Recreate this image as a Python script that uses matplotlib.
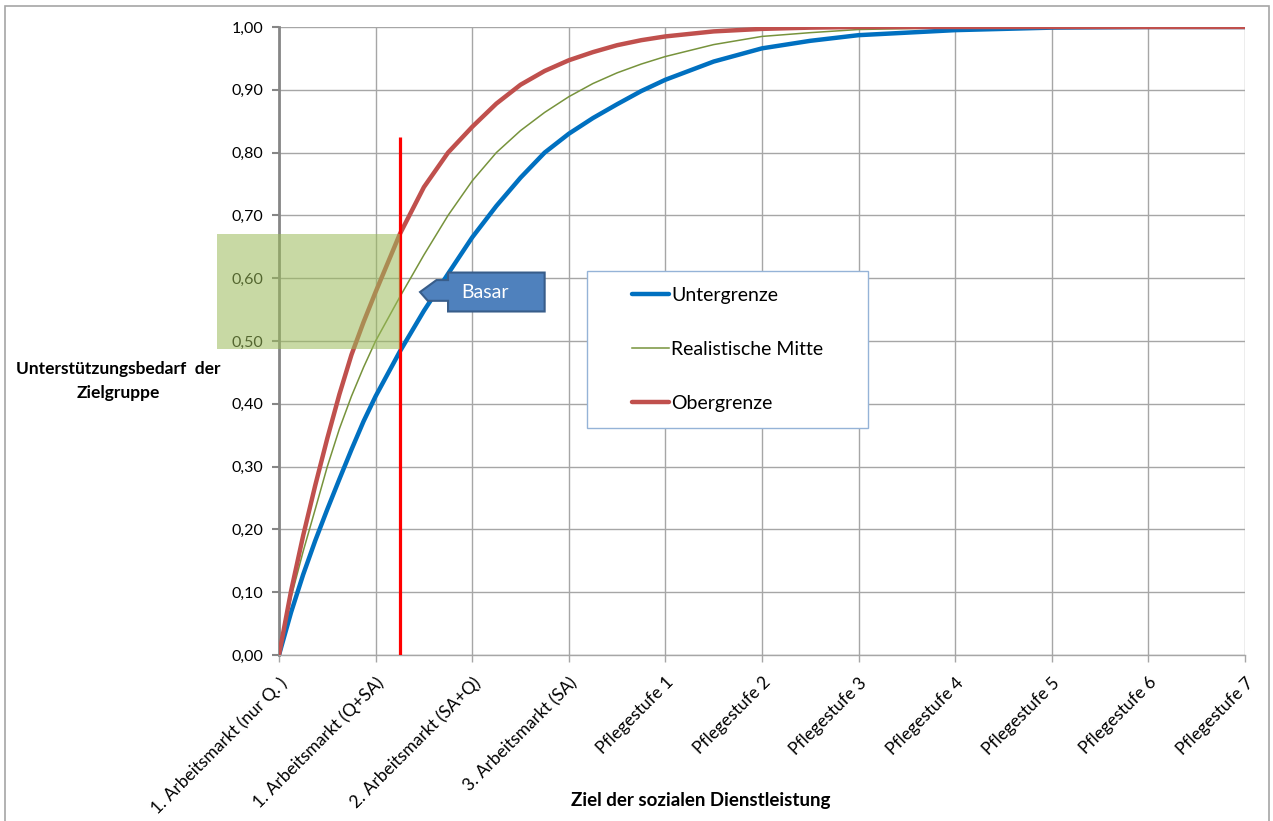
import matplotlib
matplotlib.use('Agg')
import matplotlib.pyplot as plt
from matplotlib.patches import Rectangle, Polygon

plt.rcParams['font.family'] = ['Lato', 'DejaVu Sans']

# category labels on the x axis
categories = ['1. Arbeitsmarkt (nur Q. )', '1. Arbeitsmarkt (Q+SA)',
              '2. Arbeitsmarkt (SA+Q)', '3. Arbeitsmarkt (SA)',
              'Pflegestufe 1', 'Pflegestufe 2', 'Pflegestufe 3',
              'Pflegestufe 4', 'Pflegestufe 5', 'Pflegestufe 6', 'Pflegestufe 7']

x_pos = [0, 0.125, 0.25, 0.375, 0.5, 0.625, 0.75, 0.875, 1, 1.25, 1.5, 1.75,
         2, 2.25, 2.5, 2.75, 3, 3.25, 3.5, 3.75, 4, 4.5, 5, 5.5, 6, 7, 8, 9, 10]
untergrenze = [0, 0.068, 0.128, 0.182, 0.232, 0.28, 0.327, 0.372, 0.412, 0.483,
               0.548, 0.607, 0.665, 0.715, 0.76, 0.8, 0.83, 0.855, 0.877,
               0.898, 0.916, 0.945, 0.966, 0.978, 0.987, 0.995, 0.999, 1.0, 1.0]
mitte = [0, 0.092, 0.165, 0.232, 0.30, 0.36, 0.412, 0.458, 0.50, 0.57, 0.637,
         0.70, 0.755, 0.80, 0.835, 0.864, 0.889, 0.91, 0.927, 0.941, 0.953,
         0.972, 0.985, 0.991, 0.996, 0.999, 1.0, 1.0, 1.0]
obergrenze = [0, 0.102, 0.19, 0.27, 0.345, 0.415, 0.478, 0.53, 0.578, 0.67,
              0.745, 0.80, 0.841, 0.878, 0.908, 0.93, 0.947, 0.96, 0.971,
              0.979, 0.985, 0.993, 0.997, 0.999, 1.0, 1.0, 1.0, 1.0, 1.0]

# marker line "Basar" and shaded range
basar_x = 1.25
basar_top = 0.825
band_y = (0.487, 0.670)
band_x_left = -0.64

y_ticks = [i / 10 for i in range(11)]
y_tick_labels = ['{:.2f}'.format(v).replace('.', ',') for v in y_ticks]

fig = plt.figure(figsize=(12.73, 8.21), dpi=100)
ax = fig.add_axes([279 / 1273, 1 - 655 / 821, 966 / 1273, 628 / 821])

ax.plot(x_pos, untergrenze, color='#0070C0', lw=3.2, label='Untergrenze',
        solid_capstyle='round', solid_joinstyle='round', zorder=3)
ax.plot(x_pos, mitte, color='#77933C', lw=1.1, label='Realistische Mitte',
        solid_joinstyle='round', zorder=3)
ax.plot(x_pos, obergrenze, color='#C0504D', lw=3.2, label='Obergrenze',
        solid_capstyle='round', solid_joinstyle='round', zorder=3)

ax.vlines(basar_x, 0, basar_top, color='#FF0000', lw=2.3, zorder=4)

band = Rectangle((band_x_left, band_y[0]), basar_x - band_x_left,
                 band_y[1] - band_y[0], facecolor='#9BBB59', alpha=0.55,
                 edgecolor='none', clip_on=False, zorder=5)
ax.add_patch(band)

# callout arrow "Basar" (built around an anchor in data units)
cx, cy = 1.46, 0.578
w, h = 1.0, 0.031
pts = [(cx + 0.29, cy + h), (cx + 0.29 + w, cy + h), (cx + 0.29 + w, cy - h),
       (cx + 0.29, cy - h), (cx + 0.29, cy - 0.014), (cx + 0.08, cy - 0.014),
       (cx, cy), (cx + 0.17, cy + 0.019), (cx + 0.29, cy + 0.019)]
ax.add_patch(Polygon(pts, closed=True, facecolor='#4F81BD', edgecolor='#385D8A',
                     lw=1.5, zorder=6))
ax.text(cx + 0.29 + w * 0.38, cy, 'Basar', color='white', fontsize=14,
        ha='center', va='center', zorder=7)

ax.set_xlim(0, 10)
ax.set_ylim(0, 1)
ax.set_xticks(range(len(categories)))
ax.set_xticklabels(categories, rotation=45, ha='right', rotation_mode='anchor',
                   fontsize=12.5)
ax.set_yticks(y_ticks)
ax.set_yticklabels(y_tick_labels, fontsize=11.5)
ax.tick_params(axis='y', direction='out', length=5, width=1.5,
               color='#868686', pad=6)
ax.tick_params(axis='x', direction='out', length=5, width=1,
               color='#a6a6a6', pad=9)
ax.grid(True, color='#a6a6a6', lw=1.0)
ax.set_axisbelow(True)
for side in ['top', 'right']:
    ax.spines[side].set_visible(False)
ax.spines['left'].set_color('#868686')
ax.spines['left'].set_linewidth(2.0)
ax.spines['bottom'].set_color('#a6a6a6')
ax.spines['bottom'].set_linewidth(1.0)

# legend with a square frame
ax.add_patch(Rectangle((308 / 966, 227 / 628), 281 / 966, 157 / 628,
                       transform=ax.transAxes, facecolor='white',
                       edgecolor='#95B3D7', lw=1.0, zorder=8))
leg = ax.legend(loc='center', bbox_to_anchor=(448.5 / 966, 305.5 / 628),
                frameon=False, fontsize=14, labelspacing=1.9,
                handlelength=1.95, handletextpad=0.1)
leg.set_zorder(9)

fig.text(118 / 1273, 1 - 381 / 821, 'Unterstützungsbedarf  der\nZielgruppe',
         ha='center', va='center', fontsize=12.5, fontweight='bold',
         linespacing=1.6)
fig.text(701 / 1273, 1 - 800 / 821, 'Ziel der sozialen Dienstleistung',
         ha='center', va='center', fontsize=13.5, fontweight='bold')

# thin frame around the whole chart area
fig.patches.append(Rectangle((5 / 1273, -0.02), 1264 / 1273, 1.02 - 6 / 821,
                             transform=fig.transFigure, fill=False,
                             edgecolor='#a6a6a6', lw=1.2))

fig.savefig('out.png', dpi=100)
